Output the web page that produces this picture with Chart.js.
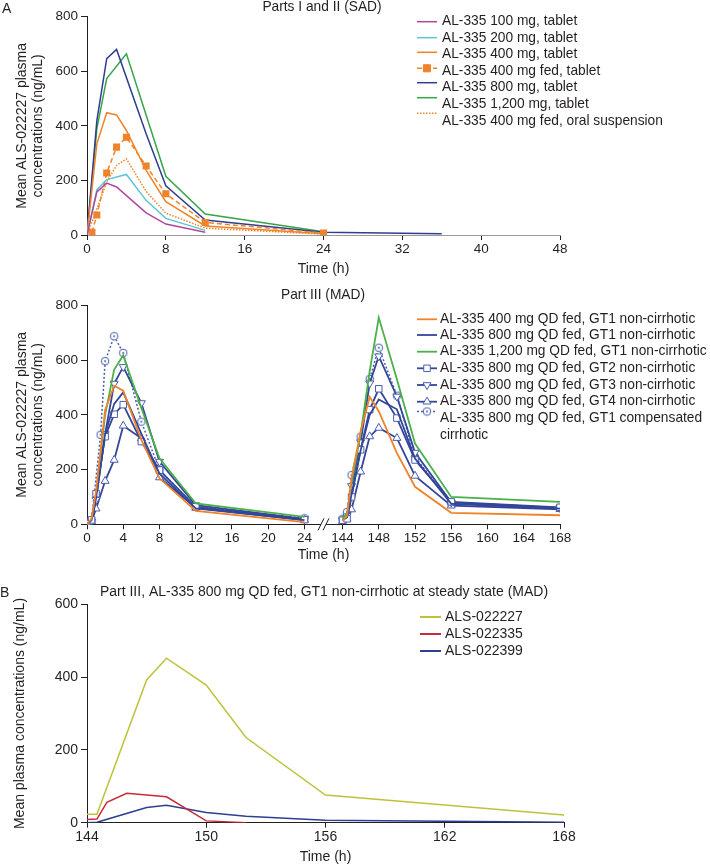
<!DOCTYPE html>
<html><head><meta charset="utf-8">
<script src="https://cdn.jsdelivr.net/npm/chart.js@4.4.1/dist/chart.umd.min.js"></script>
<style>
html,body{margin:0;padding:0;background:#fff;width:710px;height:864px;overflow:hidden}
canvas{position:absolute;left:0}
.lbl{position:absolute;font-family:'Liberation Sans',Arial,sans-serif;font-size:14px;color:#231f20;line-height:14px}
</style></head><body>
<canvas id="c1" width="710" height="285" style="top:0;width:710px;height:285px"></canvas>
<canvas id="c2" width="710" height="290" style="top:285px;width:710px;height:290px"></canvas>
<canvas id="c3" width="710" height="289" style="top:575px;width:710px;height:289px"></canvas>
<div class="lbl" style="left:2px;top:1px">A</div>
<div class="lbl" style="left:0px;top:585px">B</div>
<script>
// ---------------- DATA: Panel A, Parts I and II (SAD) ----------------
const sadT100 = [0,1,2,3,6,8,12];
const sad100  = [0,158,190,176,81,40,10];
const sadT200 = [0,1,2,4,6,8,12];
const sad200  = [0,165,203,222,127,61,17];
const sadT400 = [0,1,2,3,4,6,8,12,24];
const sad400  = [0,334,448,440,383,237,122,33,5];
const sadT400fed = [0.5,1,2,3,4,6,8,12,24];
const sad400fed  = [10,73,227,322,358,253,151,46,7];
const sadT800 = [0,1,2,3,6,8,12,24,36];
const sad800  = [0,419,646,680,371,180,55,10,5];
const sadT1200 = [0,1,2,4,8,12,24];
const sad1200  = [0,390,573,664,215,77,12];
const sadT400susp = [0,1,2,3,4,6,8,12,24];
const sad400susp  = [0,95,194,255,279,160,80,25,3];
const sadLabels = ['AL-335 100 mg, tablet','AL-335 200 mg, tablet','AL-335 400 mg, tablet',
  'AL-335 400 mg fed, tablet','AL-335 800 mg, tablet','AL-335 1,200 mg, tablet','AL-335 400 mg fed, oral suspension'];
const sadXTicks = [0,8,16,24,32,40,48];

// ---------------- DATA: Part III (MAD) ----------------
const madTimesL = [0,0.5,1,2,3,4,6,8,12,24];
const madTimesLCirr = [0,0.5,1.5,2,3,4,6,8,12,24];
const madTimesR = [144,144.5,145,146,147,148,150,152,156,168];
const mad400L  = [0,20,120,418,506,488,308,168,49,8];
const mad400R  = [12,30,170,340,465,413,260,137,42,33];
const mad800L  = [0,15,95,330,440,482,330,185,58,15];
const mad800R  = [15,25,110,270,400,456,420,240,75,57];
const mad1200L = [0,20,110,400,565,617,425,241,76,27];
const mad1200R = [20,40,150,330,560,755,530,295,100,82];
const madGT2L  = [3,16,112,320,402,437,302,198,64,17];
const madGT2R  = [15,20,100,272,419,495,388,235,82,62];
const madGT3L  = [0,10,90,330,514,575,443,229,70,20];
const madGT3R  = [15,30,140,300,515,614,467,262,80,60];
const madGT4L  = [0,10,57,158,235,360,314,171,60,15];
const madGT4R  = [12,20,54,192,321,352,315,177,68,55];
const madCirrL = [0,15,327,596,687,626,375,198,64,22];
const madCirrR = [20,45,180,320,531,645,470,246,75,60];
const madLabels = [['AL-335 400 mg QD fed, GT1 non-cirrhotic'],['AL-335 800 mg QD fed, GT1 non-cirrhotic'],
  ['AL-335 1,200 mg QD fed, GT1 non-cirrhotic'],['AL-335 800 mg QD fed, GT2 non-cirrhotic'],
  ['AL-335 800 mg QD fed, GT3 non-cirrhotic'],['AL-335 800 mg QD fed, GT4 non-cirrhotic'],
  ['AL-335 800 mg QD fed, GT1 compensated','cirrhotic']];
const madXTicks = [0,4,8,12,16,20,24,144,148,152,156,160,164,168];

// ---------------- DATA: Panel B (steady state, metabolites) ----------------
const bT227 = [144,144.5,147,148,150,152,156,168];
const b227  = [23,23,392,452,378,234,76,21];
const bT335 = [144,144.5,145,146,148,150,152];
const b335  = [9,10,56,81,71,5,0];
const bT399 = [144,144.5,147,148,150,152,156,168];
const b399  = [0,1,42,48,28,18,7,1];
const bLabels = ['ALS-022227','ALS-022335','ALS-022399'];
const bXTicks = [144,150,156,162,168];

// ---------------- helpers ----------------
const TXT = '#231f20';
const FONT = "'Liberation Sans', Arial, sans-serif";
Chart.defaults.color = TXT;
Chart.defaults.font.family = FONT;

const pts = (ts, vs) => ts.map((t, i) => ({x: t, y: vs[i]}));
const G = 4.2; // hours of blank space at the axis break
const madX = t => (t <= 24 ? t : t - 144 + 24 + G);
const madPts = (tl, vl, tr, vr) => [...pts(tl.map(madX), vl), {x: 24 + G / 2, y: null}, ...pts(tr.map(madX), vr)];

function circleDot(color) {
  const c = document.createElement('canvas'); c.width = 10; c.height = 10;
  const x = c.getContext('2d');
  x.beginPath(); x.arc(5, 5, 3.8, 0, Math.PI * 2); x.fillStyle = '#fff'; x.fill();
  x.lineWidth = 1; x.strokeStyle = color; x.stroke();
  x.beginPath(); x.arc(5, 5, 1, 0, Math.PI * 2); x.fillStyle = color; x.fill();
  return c;
}

function drawMarker(ctx, ds, x, y) {
  const st = ds.pointStyle, r = ds.pointRadius;
  if (!r) return;
  ctx.save(); ctx.setLineDash([]);
  if (st instanceof HTMLCanvasElement) { ctx.drawImage(st, x - st.width / 2, y - st.height / 2); ctx.restore(); return; }
  ctx.lineWidth = ds.pointBorderWidth || 1;
  ctx.fillStyle = ds.pointBackgroundColor; ctx.strokeStyle = ds.pointBorderColor || ds.borderColor;
  ctx.beginPath();
  if (st === 'rect') { const s = r * Math.SQRT1_2; ctx.rect(x - s, y - s, 2 * s, 2 * s); }
  else if (st === 'triangle') {
    let a = (ds.pointRotation || 0) * Math.PI / 180;
    ctx.moveTo(x + Math.sin(a) * r, y - Math.cos(a) * r);
    a += 2 * Math.PI / 3; ctx.lineTo(x + Math.sin(a) * r, y - Math.cos(a) * r);
    a += 2 * Math.PI / 3; ctx.lineTo(x + Math.sin(a) * r, y - Math.cos(a) * r);
    ctx.closePath();
  } else { ctx.arc(x, y, r, 0, Math.PI * 2); }
  ctx.fill(); ctx.stroke(); ctx.restore();
}

const decor = {
  id: 'decor',
  afterDraw(chart, args, o) {
    const ctx = chart.ctx, ca = chart.chartArea;
    ctx.save();
    ctx.fillStyle = TXT; ctx.textBaseline = 'middle';
    if (o.title) {
      ctx.font = o.titleFont; ctx.textAlign = 'center';
      ctx.fillText(o.title, o.titleX, o.titleY);
    }
    if (o.legend) {
      const L = o.legend;
      ctx.font = L.font; ctx.textAlign = 'left';
      L.items.forEach(it => {
        const ds = chart.data.datasets[it.ds];
        ctx.save();
        ctx.strokeStyle = ds.borderColor; ctx.lineWidth = L.lw || ds.borderWidth;
        ctx.setLineDash(ds.borderDash || []);
        ctx.beginPath(); ctx.moveTo(L.x0, it.iy); ctx.lineTo(L.x1, it.iy); ctx.stroke();
        ctx.restore();
        drawMarker(ctx, ds, (L.x0 + L.x1) / 2, it.iy);
        ctx.fillStyle = TXT;
        it.text.forEach((t, k) => ctx.fillText(t, L.tx, it.y + k * L.lh));
      });
    }
    if (o.breakAt !== undefined) {
      const xs = chart.scales.x;
      const m = (xs.getPixelForValue(o.breakAt) + xs.getPixelForValue(o.breakAt + G)) / 2;
      const y = ca.bottom;
      ctx.fillStyle = '#fff'; ctx.fillRect(m - 2.5, y - 2, 5, 4);
      ctx.strokeStyle = TXT; ctx.lineWidth = 1;
      [m - 2.5, m + 2.5].forEach(cx => { ctx.beginPath(); ctx.moveTo(cx - 3, y + 6); ctx.lineTo(cx + 3, y - 6); ctx.stroke(); });
    }
    ctx.restore();
  }
};

function yAxis(max, text, tfont, lfont, padTop) {
  return {
    min: 0, max: max,
    ticks: {stepSize: 200, font: lfont, color: TXT, padding: 3},
    grid: {display: true, drawOnChartArea: false, drawTicks: true, tickLength: 6, color: TXT},
    border: {display: true, color: TXT, width: 1},
    title: {display: true, text: text, font: tfont, color: TXT, padding: {top: padTop, bottom: 0}},
    afterFit(s) { s.width = 87; }
  };
}
function xAxis(min, max, tickVals, lfont, tfont, h, padBottom, borderColor, cb) {
  return {
    type: 'linear', min: min, max: max,
    afterBuildTicks(s) { s.ticks = tickVals.map(v => ({value: v})); },
    ticks: {font: lfont, color: TXT, padding: 1, maxRotation: 0, autoSkip: false, callback: cb || (v => String(v))},
    grid: {display: true, drawOnChartArea: false, drawTicks: true, tickLength: 5, color: TXT},
    border: {display: true, color: borderColor, width: 1},
    title: {display: true, text: 'Time (h)', font: tfont, color: TXT, padding: {top: 0, bottom: padBottom}},
    afterFit(s) { s.height = h; }
  };
}
function line(data, color, opts) {
  return Object.assign({data: data, borderColor: color, backgroundColor: color, borderWidth: 1.5,
    pointRadius: 0, pointHoverRadius: 0, tension: 0, fill: false, spanGaps: false}, opts || {});
}

const f14 = {family: FONT, size: 14};
const f13 = {family: FONT, size: 13.5};
const LEGF = '13.75px ' + FONT;

// ---------------- Chart 1: SAD ----------------
const cPurple = '#b0479e', cCyan = '#5fc4d6', cOrange = '#f0832a', cBlue = '#2f3e8f', cGreen = '#37a549';
new Chart(document.getElementById('c1'), {
  type: 'line',
  data: {datasets: [
    line(pts(sadT100, sad100), cPurple),
    line(pts(sadT200, sad200), cCyan),
    line(pts(sadT400, sad400), cOrange),
    line(pts(sadT400fed, sad400fed), cOrange, {borderDash: [5, 3], pointStyle: 'rect', pointRadius: 5,
      pointBackgroundColor: cOrange, pointBorderColor: cOrange, pointBorderWidth: 0}),
    line(pts(sadT800, sad800), cBlue),
    line(pts(sadT1200, sad1200), cGreen),
    line(pts(sadT400susp, sad400susp), cOrange, {borderDash: [1.5, 1.5]})
  ]},
  options: {
    responsive: false, animation: false, devicePixelRatio: 1,
    layout: {padding: {left: 0, top: 16.7, right: 150, bottom: 0}},
    plugins: {legend: {display: false}, tooltip: {enabled: false},
      decor: {title: 'Parts I and II (SAD)', titleFont: LEGF, titleX: 322, titleY: 7.5,
        legend: {font: LEGF, x0: 417, x1: 437, tx: 442, lh: 16.7, items: [
          {ds: 0, y: 21.7, iy: 21.7, text: [sadLabels[0]]},
          {ds: 1, y: 38.3, iy: 37.7, text: [sadLabels[1]]},
          {ds: 2, y: 54.7, iy: 52.3, text: [sadLabels[2]]},
          {ds: 3, y: 71, iy: 68.3, text: [sadLabels[3]]},
          {ds: 4, y: 87.7, iy: 82.7, text: [sadLabels[4]]},
          {ds: 5, y: 104.3, iy: 97.7, text: [sadLabels[5]]},
          {ds: 6, y: 121, iy: 113.3, text: [sadLabels[6]]}
        ]}}},
    scales: {
      x: xAxis(0, 48, sadXTicks, f13, f14, 50, 7, '#9a9a9a'),
      y: yAxis(800, ['Mean ALS-022227 plasma', 'concentrations (ng/mL)'], Object.assign({lineHeight: 16.7 / 14}, f14), f13, 13.3)
    }
  },
  plugins: [decor]
});

// ---------------- Chart 2: MAD ----------------
const mBlue = '#34469a', mMark = '#4a5fae';
const openMark = (style, rot) => ({pointStyle: style, pointRadius: 4.6, pointRotation: rot || 0,
  pointBackgroundColor: '#fff', pointBorderColor: mMark, pointBorderWidth: 1});
new Chart(document.getElementById('c2'), {
  type: 'line',
  data: {datasets: [
    line(madPts(madTimesL, mad400L, madTimesR, mad400R), cOrange, {borderWidth: 1.8}),
    line(madPts(madTimesL, mad800L, madTimesR, mad800R), mBlue, {borderWidth: 1.8}),
    line(madPts(madTimesL, mad1200L, madTimesR, mad1200R), '#4bb04a', {borderWidth: 1.8}),
    line(madPts(madTimesL, madGT2L, madTimesR, madGT2R), mBlue, Object.assign({borderWidth: 1.8}, openMark('rect'))),
    line(madPts(madTimesL, madGT3L, madTimesR, madGT3R), mBlue, Object.assign({borderWidth: 1.8}, openMark('triangle', 180))),
    line(madPts(madTimesL, madGT4L, madTimesR, madGT4R), mBlue, Object.assign({borderWidth: 1.8}, openMark('triangle'))),
    line(madPts(madTimesLCirr, madCirrL, madTimesR, madCirrR), mMark, {borderWidth: 1.5, borderDash: [2, 2],
      pointStyle: circleDot(mMark), pointRadius: 4.5})
  ]},
  options: {
    responsive: false, animation: false, devicePixelRatio: 1,
    layout: {padding: {left: 0, top: 20.3, right: 150, bottom: 0}},
    plugins: {legend: {display: false}, tooltip: {enabled: false},
      decor: {title: 'Part III (MAD)', titleFont: LEGF, titleX: 323, titleY: 10, breakAt: 24,
        legend: {font: LEGF, x0: 417, x1: 437, tx: 440, lh: 16.7, items: [
          {ds: 0, y: 34.3, iy: 34.3, text: madLabels[0]},
          {ds: 1, y: 50, iy: 50, text: madLabels[1]},
          {ds: 2, y: 66.7, iy: 66.7, text: madLabels[2]},
          {ds: 3, y: 83.3, iy: 83.3, text: madLabels[3]},
          {ds: 4, y: 100, iy: 100, text: madLabels[4]},
          {ds: 5, y: 116.7, iy: 116.7, text: madLabels[5]},
          {ds: 6, y: 133.3, iy: 126.5, text: madLabels[6]}
        ]}}},
    scales: {
      x: xAxis(0, 48 + G, madXTicks.map(madX), f13, f14, 50.7, 11, TXT,
        v => String(Math.round(v <= 24 ? v : v - 24 - G + 144))),
      y: yAxis(800, ['Mean ALS-022227 plasma', 'concentrations (ng/mL)'], Object.assign({lineHeight: 16.7 / 14}, f14), f13, 13.3)
    }
  },
  plugins: [decor]
});

// ---------------- Chart 3: Panel B ----------------
const nf = {family: FONT, size: 14};
const BF = '14px ' + FONT;
new Chart(document.getElementById('c3'), {
  type: 'line',
  data: {datasets: [
    line(pts(bT227, b227), '#bec23b'),
    line(pts(bT335, b335), '#c62a3b'),
    line(pts(bT399, b399), '#2c3f91')
  ]},
  options: {
    responsive: false, animation: false, devicePixelRatio: 1,
    layout: {padding: {left: 0, top: 29.3, right: 146, bottom: 0}},
    plugins: {legend: {display: false}, tooltip: {enabled: false},
      decor: {title: 'Part III, AL-335 800 mg QD fed, GT1 non-cirrhotic at steady state (MAD)', titleFont: BF,
        titleX: 324, titleY: 17,
        legend: {font: BF, x0: 420, x1: 441, tx: 445, lh: 17, lw: 2, items: [
          {ds: 0, y: 42, iy: 42, text: [bLabels[0]]},
          {ds: 1, y: 59, iy: 59, text: [bLabels[1]]},
          {ds: 2, y: 76, iy: 76, text: [bLabels[2]]}
        ]}}},
    scales: {
      x: xAxis(144, 168, bXTicks, nf, Object.assign({lineHeight: 1.0}, nf), 41.3, 0, TXT),
      y: yAxis(600, 'Mean plasma concentrations (ng/mL)', Object.assign({lineHeight: 1.2}, nf), nf, 12)
    }
  },
  plugins: [decor]
});
</script>
</body></html>
